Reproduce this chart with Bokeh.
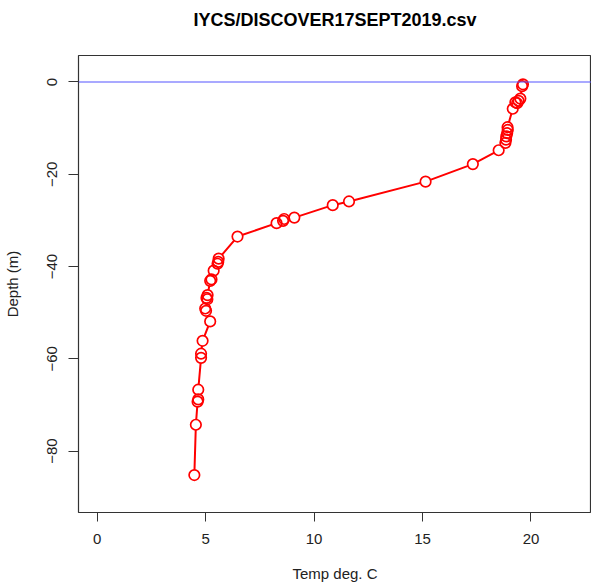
from bokeh.plotting import figure
from bokeh.models import Span, ColumnDataSource, FixedTicker, Range1d, Title
from bokeh.embed import file_html
from bokeh.resources import INLINE

title_text = "IYCS/DISCOVER17SEPT2019.csv"
x_label = "Temp deg. C"
y_label = "Depth (m)"

temp = [19.63, 19.59, 19.51, 19.43, 19.28, 19.36, 19.16, 18.92, 18.93, 18.90,
        18.86, 18.85, 18.82, 18.51, 17.32, 15.14, 11.61, 10.86, 9.09, 8.62,
        8.57, 8.27, 6.47, 5.60, 5.58, 5.55, 5.37, 5.27, 5.21, 5.09,
        5.04, 5.08, 4.98, 5.02, 5.21, 4.86, 4.79, 4.79, 4.66, 4.66,
        4.63, 4.55, 4.48]
depth = [-0.5, -0.9, -3.6, -4.1, -4.4, -4.6, -5.8, -9.8, -10.4, -11.1,
         -11.8, -12.5, -13.2, -14.8, -17.8, -21.6, -25.9, -26.7, -29.4, -29.7,
         -30.1, -30.6, -33.5, -38.3, -39.0, -39.4, -40.9, -42.8, -43.1, -46.2,
         -46.8, -47.1, -49.1, -49.6, -51.9, -56.1, -58.9, -59.8, -66.7, -68.8,
         -69.3, -74.3, -85.2]

x_ticks = [0, 5, 10, 15, 20]
y_ticks = [0, -20, -40, -60, -80]
surface = 0

src = ColumnDataSource(dict(t=temp, d=depth))

p = figure(width=591, height=584, output_backend="svg", toolbar_location=None,
           x_range=Range1d(-0.861, 22.79), y_range=Range1d(-93.32, 5.74),
           min_border_left=77, min_border_right=0, min_border_top=55,
           min_border_bottom=68, title=None)

# spacer between frame and title, then the title itself
p.add_layout(Title(text=" ", text_font_size="10px", standoff=10), "above")
p.add_layout(Title(text=title_text, align="center", text_font="Liberation Sans",
                   text_font_size="18px", text_font_style="bold",
                   text_color="black", standoff=6), "above")

p.xgrid.visible = False
p.ygrid.visible = False
p.outline_line_color = "#333333"
p.outline_line_width = 1.2

for ax in (p.xaxis[0], p.yaxis[0]):
    ax.axis_line_color = None
    ax.major_tick_in = 0
    ax.major_tick_out = 9
    ax.major_tick_line_color = "#333333"
    ax.minor_tick_line_color = None
    ax.major_label_text_font = "Liberation Sans"
    ax.major_label_text_font_size = "15px"
    ax.major_label_text_color = "#222222"
    ax.axis_label_text_font = "Liberation Sans"
    ax.axis_label_text_font_size = "15px"
    ax.axis_label_text_font_style = "normal"
    ax.axis_label_text_color = "#222222"

p.xaxis.ticker = FixedTicker(ticks=x_ticks)
p.yaxis.ticker = FixedTicker(ticks=y_ticks)
p.xaxis.axis_label = x_label
p.yaxis.axis_label = y_label
p.xaxis.major_label_standoff = 12
p.xaxis.axis_label_standoff = 18
p.yaxis.major_tick_out = 10
p.yaxis.major_label_orientation = "vertical"
p.yaxis.major_label_standoff = 11
p.yaxis.axis_label_standoff = 24

p.add_layout(Span(location=surface, dimension="width", line_color="#5555ff", line_width=1.2))

p.line("t", "d", source=src, line_color="red", line_width=2)
p.scatter("t", "d", source=src, size=10.5, fill_color="white", line_color=None)
p.scatter("t", "d", source=src, size=10.5, fill_color=None, line_color="red", line_width=1.7)

open("out.html", "w").write(file_html(p, INLINE))
